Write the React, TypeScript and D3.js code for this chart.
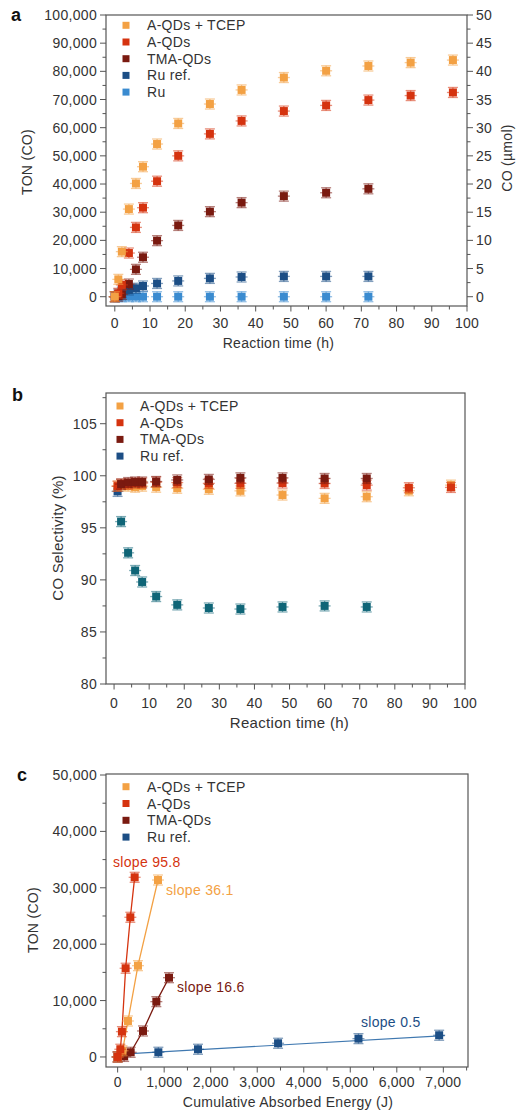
import React from "react"
import * as d3 from "d3"

const FONT = "'Liberation Sans', Arial, Helvetica, sans-serif"
const AXIS = "#555555"
const TEXT = "#333333"

const C_TCEP = "#f3a144"
const C_AQD = "#d5330f"
const C_TMA = "#7a1a10"
const C_RUREF = "#1c4e85"
const C_RU = "#3a8bd0"
const C_TEAL = "#0f6577"

// ---- panel a: TON (CO) vs reaction time
const timeA_tcep = [0, 1, 2, 4, 6, 8, 12, 18, 27, 36, 48, 60, 72, 84, 96]
const tonA_tcep = [0, 6150, 16000, 31100, 40200, 46150, 54200, 61500, 68400, 73400, 77800, 80200, 81900, 83100, 84000]
const timeA_aqd = [0, 1, 2, 4, 6, 8, 12, 18, 27, 36, 48, 60, 72, 84, 96]
const tonA_aqd = [0, 1200, 4200, 15500, 24600, 31600, 41000, 50000, 57800, 62400, 65900, 67900, 69800, 71400, 72500]
const timeA_tma = [0, 1, 2, 4, 6, 8, 12, 18, 27, 36, 48, 60, 72]
const tonA_tma = [0, 200, 800, 4500, 9700, 14000, 19900, 25300, 30200, 33400, 35700, 36900, 38300]
const timeA_ruRef = [0, 1, 2, 4, 6, 8, 12, 18, 27, 36, 48, 60, 72]
const tonA_ruRef = [0, 900, 1600, 2400, 3000, 3800, 4700, 5600, 6500, 7000, 7200, 7200, 7200]
const timeA_ru = [0, 1, 2, 4, 6, 8, 12, 18, 27, 36, 48, 60, 72]
const tonA_ru = [0, 0, 0, 0, 0, 0, 0, 0, 0, 0, 0, 0, 0]

// ---- panel b: CO selectivity
const timeB_tcep = [1, 2, 4, 6, 8, 12, 18, 27, 36, 48, 60, 72, 84, 96]
const selB_tcep = [99.0, 99.1, 99.0, 98.9, 99.0, 98.9, 98.8, 98.7, 98.55, 98.15, 97.83, 97.99, 98.56, 99.1]
const timeB_aqd = [1, 2, 4, 6, 8, 12, 18, 27, 36, 48, 60, 72, 84, 96]
const selB_aqd = [99.0, 99.2, 99.2, 99.3, 99.3, 99.4, 99.35, 99.27, 99.27, 99.3, 99.26, 99.1, 98.85, 98.88]
const timeB_tma = [2, 4, 6, 8, 12, 18, 27, 36, 48, 60, 72]
const selB_tma = [99.2, 99.35, 99.4, 99.4, 99.45, 99.6, 99.65, 99.8, 99.8, 99.74, 99.74]
const timeB_ruRef = [1, 2, 4, 6, 8, 12, 18, 27, 36, 48, 60, 72]
const selB_ruRef = [98.5, 95.6, 92.6, 90.9, 89.8, 88.4, 87.6, 87.3, 87.2, 87.4, 87.5, 87.4]

// ---- panel c: TON vs cumulative absorbed energy
const energyC_tcep = [0, 105, 222, 437, 867]
const tonC_tcep = [0, 1100, 6380, 16190, 31380]
const energyC_aqd = [0, 58, 92, 172, 273, 366]
const tonC_aqd = [0, 1365, 4490, 15730, 24770, 31860]
const energyC_tma = [0, 140, 280, 545, 832, 1104]
const tonC_tma = [0, 100, 830, 4610, 9810, 14060]
const energyC_ruRef = [0, 875, 1727, 3448, 5176, 6910]
const tonC_ruRef = [0, 833, 1365, 2430, 3250, 3850]
const fitC_ruRef = [[0, 470], [7030, 3790]]

const slopeLabels = [
  { text: "slope 95.8", e: -99, ton: 33690, color: C_AQD },
  { text: "slope 36.1", e: 1040, ton: 28720, color: C_TCEP },
  { text: "slope 16.6", e: 1277, ton: 11520, color: C_TMA },
  { text: "slope 0.5", e: 5230, ton: 5320, color: C_RUREF },
]

const legendA = [
  { name: "A-QDs + TCEP", color: C_TCEP },
  { name: "A-QDs", color: C_AQD },
  { name: "TMA-QDs", color: C_TMA },
  { name: "Ru ref.", color: C_RUREF },
  { name: "Ru", color: C_RU },
]
const legendBC = legendA.slice(0, 4)

const fmt = d3.format(",")

type Box = { x0: number; x1: number; y0: number; y1: number }

function Marker({ x, y, color }: { x: number; y: number; color: string }) {
  return (
    <g>
      <g stroke={color} strokeOpacity={0.55} strokeWidth={1.3}>
        <line x1={x - 6} x2={x + 6} y1={y} y2={y} />
        <line x1={x} x2={x} y1={y - 5} y2={y + 5} />
        <line x1={x - 5} x2={x + 5} y1={y - 5} y2={y - 5} />
        <line x1={x - 5} x2={x + 5} y1={y + 5} y2={y + 5} />
      </g>
      <rect x={x - 4} y={y - 4} width={8} height={8} fill={color} />
    </g>
  )
}

function Frame({
  box, xs, ys, xMajor, xMinor, yMajor, yMinor, xFmt, yFmt, tickSize, xLabelDy,
}: {
  box: Box
  xs: d3.ScaleLinear<number, number>
  ys: d3.ScaleLinear<number, number>
  xMajor: number[]
  xMinor: number[]
  yMajor: number[]
  yMinor: number[]
  xFmt: (v: number) => string
  yFmt: (v: number) => string
  tickSize: number
  xLabelDy: number
}) {
  return (
    <g>
      <rect x={box.x0} y={box.y0} width={box.x1 - box.x0} height={box.y1 - box.y0} fill="none" stroke={AXIS} strokeWidth={1.2} />
      {xMajor.map(v => (
        <g key={"xM" + v}>
          <line x1={xs(v)} x2={xs(v)} y1={box.y1} y2={box.y1 + 5.5} stroke={AXIS} />
          <text x={xs(v)} y={box.y1 + xLabelDy} textAnchor="middle" fontSize={tickSize} letterSpacing={0.2} fill={TEXT}>{xFmt(v)}</text>
        </g>
      ))}
      {xMinor.map(v => (
        <line key={"xm" + v} x1={xs(v)} x2={xs(v)} y1={box.y1} y2={box.y1 + 3.5} stroke={AXIS} />
      ))}
      {yMajor.map(v => (
        <g key={"yM" + v}>
          <line x1={box.x0 - 6} x2={box.x0} y1={ys(v)} y2={ys(v)} stroke={AXIS} />
          <text x={box.x0 - 9} y={ys(v)} dy="0.36em" textAnchor="end" fontSize={tickSize} letterSpacing={0.3} fill={TEXT}>{yFmt(v)}</text>
        </g>
      ))}
      {yMinor.map(v => (
        <line key={"ym" + v} x1={box.x0 - 3.5} x2={box.x0} y1={ys(v)} y2={ys(v)} stroke={AXIS} />
      ))}
    </g>
  )
}

function Legend({ items, x, tx, y, step }: { items: { name: string; color: string }[]; x: number; tx: number; y: number; step: number }) {
  return (
    <g>
      {items.map((it, i) => (
        <g key={it.name}>
          <rect x={x - 3.5} y={y + i * step - 3.5} width={7} height={7} fill={it.color} />
          <text x={tx} y={y + i * step + 5} fontSize={14} letterSpacing={0.3} fill={TEXT}>{it.name}</text>
        </g>
      ))}
    </g>
  )
}

function Points({ xs, ys, xv, yv, color, colorAt }: {
  xs: d3.ScaleLinear<number, number>
  ys: d3.ScaleLinear<number, number>
  xv: number[]
  yv: number[]
  color: string
  colorAt?: (i: number) => string
}) {
  return (
    <g>
      {xv.map((v, i) => (
        <Marker key={i} x={xs(v)} y={ys(yv[i])} color={colorAt ? colorAt(i) : color} />
      ))}
    </g>
  )
}

function PanelA() {
  const box: Box = { x0: 106, x1: 467, y0: 15, y1: 306 }
  const xs = d3.scaleLinear().domain([-2.5, 100]).range([box.x0, box.x1])
  const ys = d3.scaleLinear().domain([-3300, 100000]).range([box.y1, box.y0])
  const yr = d3.scaleLinear().domain([-1.65, 50]).range([box.y1, box.y0])
  return (
    <g>
      <Frame box={box} xs={xs} ys={ys}
        xMajor={d3.range(0, 101, 10)} xMinor={d3.range(5, 100, 10)}
        yMajor={d3.range(0, 100001, 10000)} yMinor={d3.range(5000, 100000, 10000)}
        xFmt={v => String(v)} yFmt={fmt} tickSize={14} xLabelDy={22} />
      {d3.range(0, 51, 5).map(v => (
        <g key={"r" + v}>
          <line x1={box.x1} x2={box.x1 + 6} y1={yr(v)} y2={yr(v)} stroke={AXIS} />
          <text x={box.x1 + 9} y={yr(v)} dy="0.36em" fontSize={14} letterSpacing={0.2} fill={TEXT}>{v}</text>
        </g>
      ))}
      {d3.range(2.5, 50, 5).map(v => (
        <line key={"rm" + v} x1={box.x1} x2={box.x1 + 3.5} y1={yr(v)} y2={yr(v)} stroke={AXIS} />
      ))}
      <text x={(box.x0 + box.x1) / 2 - 8} y={348} textAnchor="middle" fontSize={14} letterSpacing={0.3} fill={TEXT}>Reaction time (h)</text>
      <text transform="translate(32,162) rotate(-90)" textAnchor="middle" fontSize={14} letterSpacing={0.3} fill={TEXT}>TON (CO)</text>
      <text transform="translate(512,158) rotate(-90)" textAnchor="middle" fontSize={14} letterSpacing={0.3} fill={TEXT}>CO (µmol)</text>
      <Legend items={legendA} x={126} tx={147} y={25.3} step={16.7} />
      <Points xs={xs} ys={ys} xv={timeA_ru} yv={tonA_ru} color={C_RU} />
      <Points xs={xs} ys={ys} xv={timeA_ruRef} yv={tonA_ruRef} color={C_RUREF} />
      <Points xs={xs} ys={ys} xv={timeA_tma} yv={tonA_tma} color={C_TMA} />
      <Points xs={xs} ys={ys} xv={timeA_aqd} yv={tonA_aqd} color={C_AQD} />
      <Points xs={xs} ys={ys} xv={timeA_tcep} yv={tonA_tcep} color={C_TCEP} />
      <text x={11} y={21} fontSize={18} fontWeight="bold" fill="#111">a</text>
    </g>
  )
}

function PanelB() {
  const box: Box = { x0: 106, x1: 465, y0: 393, y1: 684 }
  const xs = d3.scaleLinear().domain([-2.3, 100]).range([box.x0, box.x1])
  const ys = d3.scaleLinear().domain([80, 107.95]).range([box.y1, box.y0])
  return (
    <g>
      <Frame box={box} xs={xs} ys={ys}
        xMajor={d3.range(0, 101, 10)} xMinor={d3.range(5, 100, 10)}
        yMajor={d3.range(80, 106, 5)} yMinor={d3.range(82.5, 108, 5)}
        xFmt={v => String(v)} yFmt={v => String(v)} tickSize={14} xLabelDy={24} />
      <text x={(box.x0 + box.x1) / 2 + 4} y={728} textAnchor="middle" fontSize={15} letterSpacing={0.3} fill={TEXT}>Reaction time (h)</text>
      <text transform="translate(63,538) rotate(-90)" textAnchor="middle" fontSize={15} letterSpacing={0.2} fill={TEXT}>CO Selectivity (%)</text>
      <Legend items={legendBC} x={120} tx={140} y={406} step={16.7} />
      <Points xs={xs} ys={ys} xv={timeB_ruRef} yv={selB_ruRef} color={C_TEAL} colorAt={i => (i === 0 ? C_RUREF : C_TEAL)} />
      <Points xs={xs} ys={ys} xv={timeB_tcep} yv={selB_tcep} color={C_TCEP} />
      <Points xs={xs} ys={ys} xv={timeB_aqd} yv={selB_aqd} color={C_AQD} />
      <Points xs={xs} ys={ys} xv={timeB_tma} yv={selB_tma} color={C_TMA} />
      <text x={12} y={401} fontSize={18} fontWeight="bold" fill="#111">b</text>
    </g>
  )
}

function PanelC() {
  const box: Box = { x0: 106, x1: 468, y0: 774, y1: 1067 }
  const xs = d3.scaleLinear().domain([-250, 7530]).range([box.x0, box.x1])
  const ys = d3.scaleLinear().domain([-1780, 50180]).range([box.y1, box.y0])
  const line = d3.line<number[]>().x(d => xs(d[0])).y(d => ys(d[1]))
  const zip = (a: number[], b: number[]) => a.map((v, i) => [v, b[i]])
  return (
    <g>
      <Frame box={box} xs={xs} ys={ys}
        xMajor={d3.range(0, 7001, 1000)} xMinor={d3.range(500, 7501, 1000)}
        yMajor={d3.range(0, 50001, 10000)} yMinor={d3.range(5000, 50000, 10000)}
        xFmt={fmt} yFmt={fmt} tickSize={14} xLabelDy={20} />
      <text x={288} y={1107} textAnchor="middle" fontSize={14} letterSpacing={0.3} fill={TEXT}>Cumulative Absorbed Energy (J)</text>
      <text transform="translate(38,920) rotate(-90)" textAnchor="middle" fontSize={14} letterSpacing={0.3} fill={TEXT}>TON (CO)</text>
      <Legend items={legendBC} x={126} tx={147} y={786.7} step={16.8} />
      <path d={line(fitC_ruRef) || ""} fill="none" stroke="#3f78b0" strokeWidth={1.2} />
      <path d={line(zip(energyC_tma, tonC_tma)) || ""} fill="none" stroke={C_TMA} strokeWidth={1.3} />
      <path d={line(zip(energyC_tcep, tonC_tcep)) || ""} fill="none" stroke={C_TCEP} strokeWidth={1.3} />
      <path d={line(zip(energyC_aqd, tonC_aqd)) || ""} fill="none" stroke={C_AQD} strokeWidth={1.3} />
      <Points xs={xs} ys={ys} xv={energyC_ruRef} yv={tonC_ruRef} color={C_RUREF} />
      <Points xs={xs} ys={ys} xv={energyC_tma} yv={tonC_tma} color={C_TMA} />
      <Points xs={xs} ys={ys} xv={energyC_tcep} yv={tonC_tcep} color={C_TCEP} />
      <Points xs={xs} ys={ys} xv={energyC_aqd} yv={tonC_aqd} color={C_AQD} />
      {slopeLabels.map(s => (
        <text key={s.text} x={xs(s.e)} y={ys(s.ton)} fontSize={14} letterSpacing={0.3} fill={s.color}>{s.text}</text>
      ))}
      <text x={17} y={781} fontSize={18} fontWeight="bold" fill="#111">c</text>
    </g>
  )
}

export default function App() {
  return (
    <svg width={524} height={1116} viewBox="0 0 524 1116"
      style={{ position: "absolute", left: 0, top: 0, background: "#fff", fontFamily: FONT }}>
      <PanelA />
      <PanelB />
      <PanelC />
    </svg>
  )
}
